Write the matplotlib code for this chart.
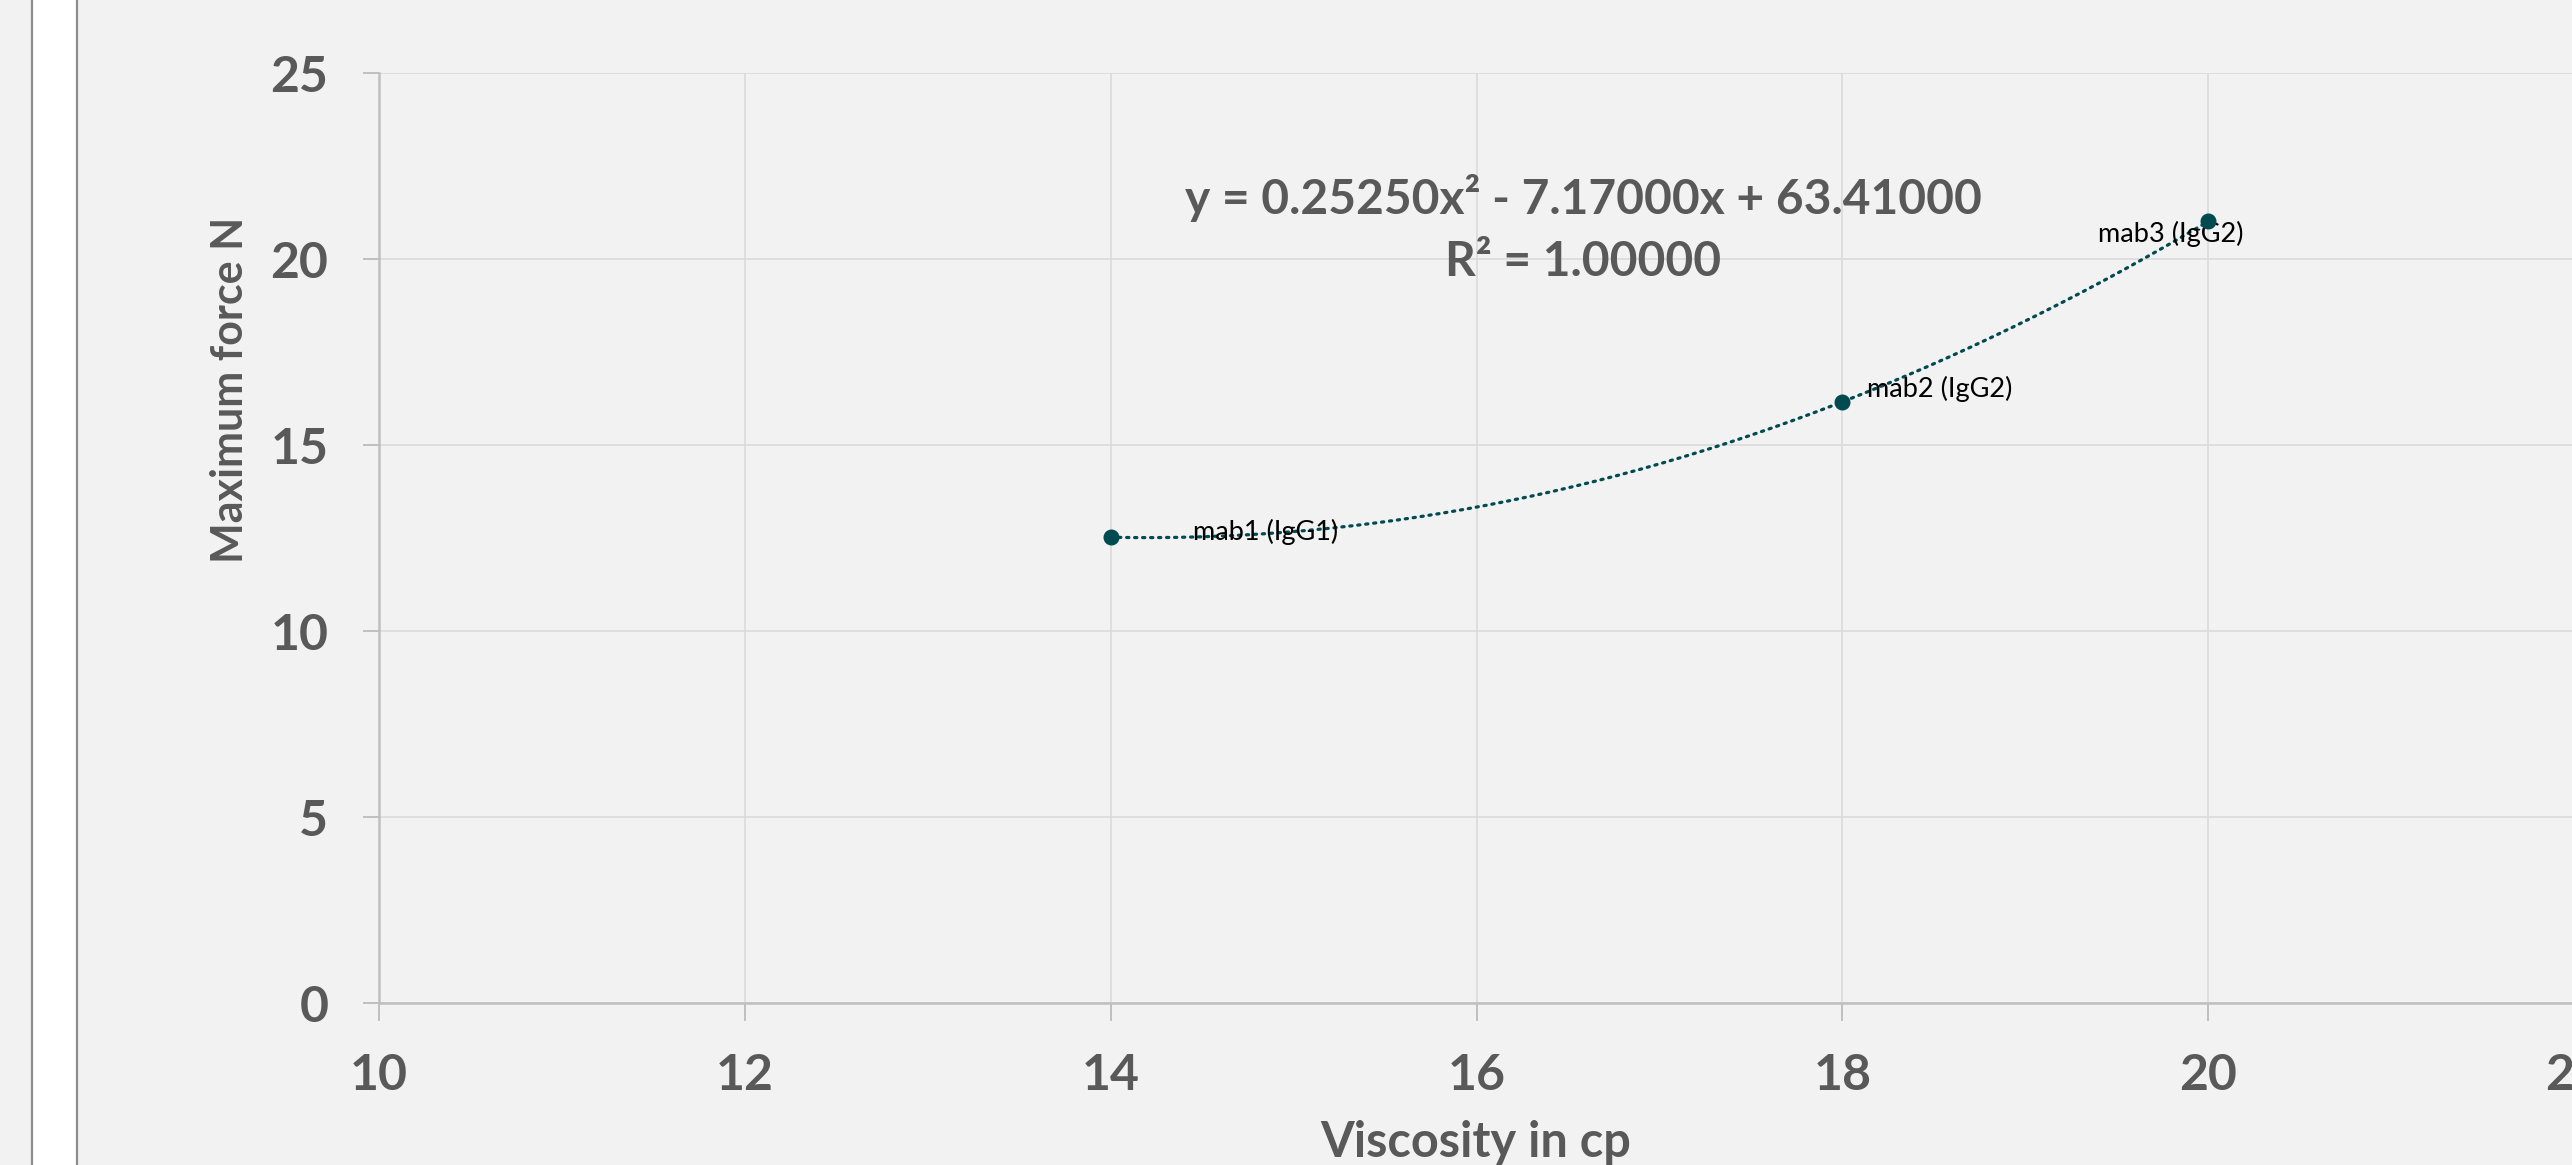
import matplotlib
matplotlib.use('Agg')
import matplotlib.pyplot as plt
from matplotlib.patches import Rectangle
from matplotlib.lines import Line2D
import numpy as np

# data
viscosity = [14, 18, 20]
max_force = [12.52, 16.16, 21.01]
labels = ['mab1 (IgG1)', 'mab2 (IgG2)', 'mab3 (IgG2)']
label_offsets = [(59, 4), (18, 9), (-27, -9)]
label_ha = ['left', 'left', 'center']
xticks = [10, 12, 14, 16, 18, 20, 22]
yticks = [0, 5, 10, 15, 20, 25]

teal = '#004a50'
grey_txt = '#595959'
bg = '#f2f2f2'

plt.rcParams['font.family'] = ['Lato', 'DejaVu Sans']

fig = plt.figure(figsize=(25.72, 11.65), dpi=100, facecolor=bg)

# white strip at the left edge (part of the surrounding sheet)
fig.add_artist(Rectangle((32/2572, 0), 45/2572, 1, transform=fig.transFigure,
                         facecolor='white', edgecolor='none'))
for xp in (32, 77):
    fig.add_artist(Line2D([xp/2572, xp/2572], [0, 1], transform=fig.transFigure,
                          color='#8c8c8c', lw=1.6))

ax = fig.add_axes([379/2572, (1165-1003)/1165, (2574-379)/2572, (1003-73)/1165])
ax.set_facecolor(bg)

ax.set_xlim(10, 22)
ax.set_ylim(0, 25)
ax.set_xticks(xticks)
ax.set_yticks(yticks)
ax.grid(True, color='#d9d9d9', lw=1.1)
ax.set_axisbelow(True)

for s in ('top', 'right'):
    ax.spines[s].set_visible(False)
for s in ('left', 'bottom'):
    ax.spines[s].set_color('#bfbfbf')
    ax.spines[s].set_linewidth(1.8)

ax.tick_params(axis='x', length=13, width=1.4, color='#bfbfbf', pad=23,
               labelsize=36, labelcolor=grey_txt)
ax.tick_params(axis='y', length=11.5, width=1.4, color='#bfbfbf', pad=25,
               labelsize=36, labelcolor=grey_txt)
for lab in ax.get_xticklabels() + ax.get_yticklabels():
    lab.set_fontweight('bold')

# polynomial trendline (order 2)
coef = np.polyfit(viscosity, max_force, 2)
p = np.poly1d(coef)
xs = np.linspace(min(viscosity), max(viscosity), 200)
ax.plot(xs, p(xs), color=teal, lw=2.3, ls=(0, (0.7, 1.8)), dash_capstyle='round')

ax.plot(viscosity, max_force, 'o', color=teal, ms=10.5, zorder=5)

for x, y, t, off, ha in zip(viscosity, max_force, labels, label_offsets, label_ha):
    ax.annotate(t, (x, y), xytext=off, textcoords='offset points',
                ha=ha, va='center', fontsize=19.5, color='black')

resid = np.array(max_force) - p(np.array(viscosity))
r2 = 1 - np.sum(resid**2) / np.sum((np.array(max_force) - np.mean(max_force))**2)
sign_b = '-' if coef[1] < 0 else '+'
sign_c = '-' if coef[2] < 0 else '+'
eq = f"y = {coef[0]:.5f}x² {sign_b} {abs(coef[1]):.5f}x {sign_c} {abs(coef[2]):.5f}"
ax.text(0.5485, 0.866, eq, transform=ax.transAxes, ha='center', va='center',
        fontsize=34.5, fontweight='bold', color=grey_txt)
ax.text(0.5485, 0.797, f"R² = {r2:.5f}", transform=ax.transAxes, ha='center',
        va='center', fontsize=34.5, fontweight='bold', color=grey_txt)

ax.set_xlabel('Viscosity in cp', fontsize=35, fontweight='bold', color=grey_txt, va='center')
ax.set_ylabel('Maximum force N', fontsize=31, fontweight='bold', color=grey_txt, va='center')
ax.xaxis.set_label_coords(0.4998, -0.1505)
ax.yaxis.set_label_coords(-0.0679, 0.659)

fig.savefig('out.png', dpi=100, facecolor=bg)
